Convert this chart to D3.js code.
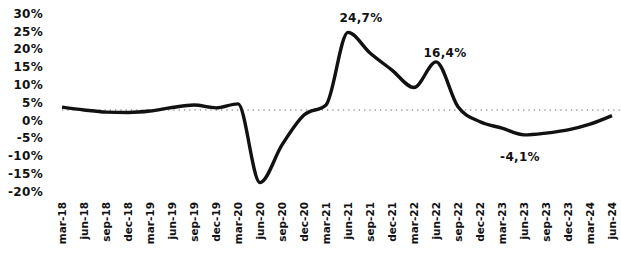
<!DOCTYPE html>
<html>
<head>
<meta charset="utf-8">
<script src="https://cdn.jsdelivr.net/npm/d3@7"></script>
<style>
  body { margin: 0; background: #fff; }
  text { font-family: "DejaVu Sans", sans-serif; font-weight: bold; fill: #111; }
</style>
</head>
<body>
<div id="chart"></div>
<script>
// quarterly values (%)
const quarters = ["mar-18","jun-18","sep-18","dec-18","mar-19","jun-19","sep-19","dec-19",
  "mar-20","jun-20","sep-20","dec-20","mar-21","jun-21","sep-21","dec-21",
  "mar-22","jun-22","sep-22","dec-22","mar-23","jun-23","sep-23","dec-23","mar-24","jun-24"];
const values = [3.7, 2.9, 2.3, 2.2, 2.6, 3.6, 4.3, 3.5,
  4.6, -17.5, -6.9, 1.5, 4.3, 24.7, 18.9, 14.1,
  9.2, 16.4, 3.8, -0.4, -2.2, -4.1, -3.6, -2.7, -1.1, 1.3];
const yTicks = [30, 25, 20, 15, 10, 5, 0, -5, -10, -15, -20];
const refLine = 2.9;
const callouts = [
  { q: "jun-21", text: "24,7%", dx: 13, dy: -10 },
  { q: "jun-22", text: "16,4%", dx: 9, dy: -5 },
  { q: "jun-23", text: "-4,1%", dx: -4, dy: 26 }
];

const width = 621, height = 254;
const svg = d3.select("#chart").append("svg")
  .attr("width", width).attr("height", height);

const x = d3.scalePoint().domain(quarters).range([62, 612]);
const y = d3.scaleLinear().domain([-20, 30]).range([191.5, 13.5]);

// y axis labels only, no line
svg.append("g")
  .selectAll("text")
  .data(yTicks)
  .enter()
  .append("text")
  .attr("x", 43)
  .attr("y", d => y(d))
  .attr("dy", "0.36em")
  .attr("text-anchor", "end")
  .attr("font-size", "12px")
  .attr("letter-spacing", "0.3px")
  .text(d => (d < 0 ? "-" : "") + Math.abs(d) + "%");

// dotted reference line
svg.append("line")
  .attr("x1", x(quarters[0]))
  .attr("x2", width)
  .attr("y1", y(refLine))
  .attr("y2", y(refLine))
  .attr("stroke", "#999")
  .attr("stroke-width", 1.3)
  .attr("stroke-dasharray", "1.3,4");

// the series
const line = d3.line()
  .x((d, i) => x(quarters[i]))
  .y(d => y(d))
  .curve(d3.curveMonotoneX);

svg.append("path")
  .datum(values)
  .attr("d", line)
  .attr("fill", "none")
  .attr("stroke", "#111")
  .attr("stroke-width", 3.4)
  .attr("stroke-linejoin", "round");

// value callouts
svg.append("g")
  .selectAll("text")
  .data(callouts)
  .enter()
  .append("text")
  .attr("x", d => x(d.q) + d.dx)
  .attr("y", d => y(values[quarters.indexOf(d.q)]) + d.dy)
  .attr("text-anchor", "middle")
  .attr("font-size", "12px")
  .attr("letter-spacing", "0.3px")
  .text(d => d.text);

// x axis labels, rotated
svg.append("g")
  .selectAll("text")
  .data(quarters)
  .enter()
  .append("text")
  .attr("transform", d => `translate(${x(d) + 4},202) rotate(-90)`)
  .attr("text-anchor", "end")
  .attr("font-size", "10.5px")
  .text(d => d);
</script>
</body>
</html>
